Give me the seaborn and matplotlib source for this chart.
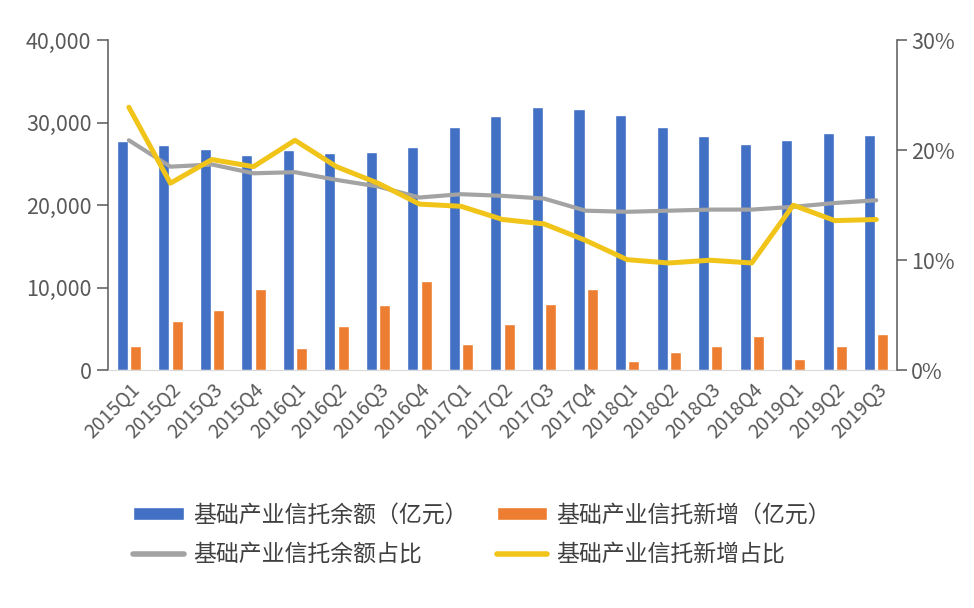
import numpy as np
import pandas as pd
import matplotlib
matplotlib.use('Agg')
import matplotlib.pyplot as plt
import matplotlib.ticker as mticker
import seaborn as sns

# ── 数据 ────────────────────────────────────────────────────────────────
quarters = ['2015Q1', '2015Q2', '2015Q3', '2015Q4', '2016Q1', '2016Q2', '2016Q3',
            '2016Q4', '2017Q1', '2017Q2', '2017Q3', '2017Q4', '2018Q1', '2018Q2',
            '2018Q3', '2018Q4', '2019Q1', '2019Q2', '2019Q3']
balance = [27750, 27250, 26850, 26100, 26650, 26350, 26400, 27100, 29500, 30850,
           31900, 31600, 30950, 29500, 28350, 27450, 27900, 28750, 28450]
new_amt = [3000, 5950, 7350, 9800, 2650, 5350, 7950, 10800, 3150, 5650,
           8000, 9900, 1150, 2200, 3000, 4150, 1400, 3000, 4450]
bal_share = [20.9, 18.5, 18.7, 17.9, 18.0, 17.3, 16.7, 15.7, 16.0, 15.85,
             15.6, 14.5, 14.4, 14.5, 14.6, 14.6, 14.85, 15.2, 15.45]
new_share = [23.9, 17.0, 19.15, 18.5, 20.9, 18.5, 17.0, 15.1, 14.9, 13.7,
             13.3, 11.8, 10.05, 9.75, 10.0, 9.75, 15.0, 13.6, 13.7]

lbl_bal = '基础产业信托余额（亿元）'
lbl_new = '基础产业信托新增（亿元）'
lbl_bal_share = '基础产业信托余额占比'
lbl_new_share = '基础产业信托新增占比'

sns.set_style('white')
plt.rcParams['font.family'] = ['Noto Sans CJK SC', 'DejaVu Sans']

df_bar = pd.DataFrame({
    'quarter': quarters * 2,
    'value': balance + new_amt,
    'series': [lbl_bal] * len(quarters) + [lbl_new] * len(quarters),
})
idx = np.arange(len(quarters))

fig = plt.figure(figsize=(9.74, 6.08), dpi=100)
ax = fig.add_axes([0.111, 0.391, 0.810, 0.543])

sns.barplot(data=df_bar, x='quarter', y='value', hue='series', ax=ax,
            palette=['#4170C4', '#ED7D31'], width=0.64, gap=0.17,
            saturation=1)
bar_handles, bar_labels = ax.get_legend_handles_labels()
ax.get_legend().remove()

ax2 = ax.twinx()
sns.lineplot(x=idx, y=bal_share, ax=ax2, color='#A3A3A3', linewidth=3.0,
             label=lbl_bal_share, solid_joinstyle='round', solid_capstyle='round')
sns.lineplot(x=idx, y=new_share, ax=ax2, color='#F0C419', linewidth=3.6,
             label=lbl_new_share, solid_joinstyle='round', solid_capstyle='round')
line_handles, line_labels = ax2.get_legend_handles_labels()
ax2.get_legend().remove()

ax.set_xlim(-0.5, len(quarters) - 0.5)
ax.set_ylim(0, 40000)
ax2.set_ylim(0, 30)
ax.set_yticks([0, 10000, 20000, 30000, 40000])
ax2.set_yticks([0, 10, 20, 30])
ax.yaxis.set_major_formatter(mticker.FuncFormatter(lambda v, p: f'{v:,.0f}'))
ax2.yaxis.set_major_formatter(mticker.FuncFormatter(lambda v, p: f'{v:.0f}%'))
ax.set_xlabel('')
ax.set_ylabel('')
ax2.set_ylabel('')

tick_col = '#595959'
for a in (ax, ax2):
    a.spines['top'].set_visible(False)
    a.spines['left'].set_color(tick_col)
    a.spines['right'].set_color(tick_col)
    a.spines['bottom'].set_color('#D9D9D9')
    a.spines['left'].set_linewidth(1.1)
    a.spines['right'].set_linewidth(1.1)
ax.spines['right'].set_visible(False)
ax2.spines['left'].set_visible(False)
ax2.spines['bottom'].set_visible(False)

ax.tick_params(axis='y', direction='out', length=8, width=1.1, color=tick_col,
               labelsize=15.5, labelcolor=tick_col, pad=4, left=True)
ax2.tick_params(axis='y', direction='out', length=7, width=1.1, color=tick_col,
                labelsize=15.5, labelcolor=tick_col, pad=3, right=True)
ax.tick_params(axis='x', length=0, labelsize=14, labelcolor=tick_col, pad=6)
plt.setp(ax.get_xticklabels(), rotation=45, ha='right', rotation_mode='anchor')
for t in ax.get_xticklabels() + ax.get_yticklabels() + ax2.get_yticklabels():
    t.set_fontweight('light')

handles = [bar_handles[0], line_handles[0], bar_handles[1], line_handles[1]]
labels = [bar_labels[0], line_labels[0], bar_labels[1], line_labels[1]]
leg = fig.legend(handles, labels, loc='center', bbox_to_anchor=(0.495, 0.12),
                 ncol=2, frameon=False, fontsize=16.5, handlelength=2.2,
                 handleheight=0.5, handletextpad=0.4, columnspacing=1.3,
                 labelspacing=0.7, labelcolor='#404040')
for t in leg.get_texts():
    t.set_fontweight('light')
for h in leg.legend_handles:
    if not hasattr(h, 'get_height'):
        h.set_linewidth(4)

fig.savefig('out.png', dpi=100)
